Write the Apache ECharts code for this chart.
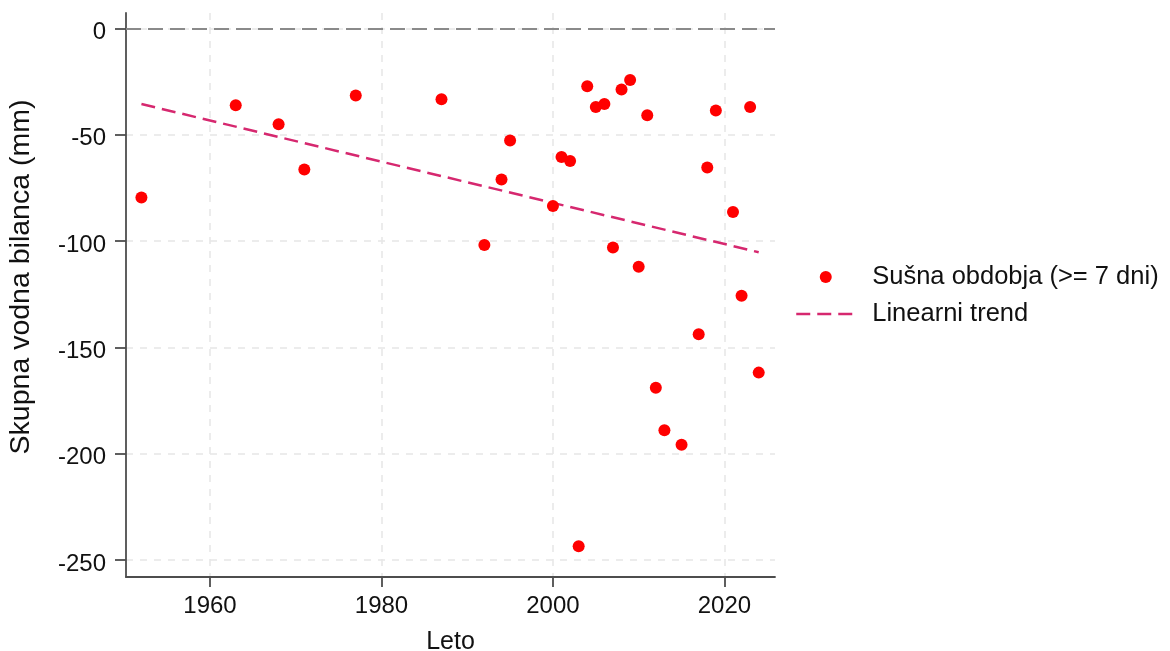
<html>
<head>
	<meta http-equiv="Content-Type" content="text/html; charset=UTF-8">
	<title>charts</title>
	<style>
		html, body { margin: 0; padding: 0; background: #fff; }
	</style>
</head>
	<body>
		<div id="echartsdrought" style="height: 651px; width: 1170px"></div>

        <script type="text/javascript" src="https://cdn.jsdelivr.net/npm/echarts@6/dist/echarts.min.js"></script>
        <script type="text/javascript">

    // leta in skupna vodna bilanca (mm)
    var years = [1952, 1963, 1968, 1971, 1977, 1987, 1992, 1994, 1995, 2000, 2001, 2002, 2003, 2004, 2005, 2006,
                 2007, 2008, 2009, 2010, 2011, 2012, 2013, 2015, 2017, 2018, 2019, 2021, 2022, 2023, 2024];
    var balance = [-79.4, -36.1, -45.0, -66.3, -31.5, -33.3, -101.8, -71.0, -52.7, -83.4, -60.4, -62.3, -243.4, -27.1, -36.9, -35.5,
                   -103.0, -28.7, -24.2, -112.0, -40.8, -168.9, -188.9, -195.7, -143.8, -65.4, -38.6, -86.3, -125.6, -36.9, -161.8];
    // linearni trend - zacetna in koncna tocka
    var trendYears = [1952, 2024];
    var trendValues = [-35.5, -105.2];
    var xTicks = [1960, 1980, 2000, 2020];
    var yTicks = [-250, -200, -150, -100, -50, 0];

    var fontName = "'Liberation Sans', Arial, Helvetica, sans-serif";
    var trendColor = '#d6286f';

    var myChart = echarts.init(document.getElementById('echartsdrought'));

    var pointData = [];
    for (var i = 0; i < years.length; i++) {
        pointData.push([years[i], balance[i]]);
    }
    var trendData = [];
    for (var i = 0; i < trendYears.length; i++) {
        trendData.push([trendYears[i], trendValues[i]]);
    }

    var axisLineStyle = {color: '#4d4d4d', width: 1.8};
    var gridLineStyle = {color: '#e6e6e6', width: 1.5, type: [7, 7]};

    var option = {
        animation: false,
        backgroundColor: '#ffffff',
        textStyle: {fontFamily: fontName},
        grid: {
            left: 126,
            right: 395,
            top: 13,
            bottom: 74,
            outerBoundsMode: 'none',
            containLabel: false
        },
        legend: {
            orient: 'vertical',
            left: 790,
            top: 259,
            itemWidth: 59,
            itemHeight: 12,
            itemGap: 11,
            textStyle: {fontSize: 25.5, color: '#111', fontFamily: fontName, padding: [0, 0, 0, 12]},
            data: [
                {name: 'Sušna obdobja (>= 7 dni)', icon: 'circle'},
                {
                    name: 'Linearni trend',
                    itemStyle: {opacity: 0},
                    lineStyle: {color: trendColor, width: 2.5, type: [14, 7]}
                }
            ]
        },
        xAxis: {
            type: 'value',
            min: 1950.2,
            max: 2025.9,
            name: 'Leto',
            nameLocation: 'middle',
            nameGap: 53,
            nameTextStyle: {fontSize: 25, color: '#111'},
            axisLine: {show: true, onZero: false, lineStyle: axisLineStyle},
            axisTick: {show: true, length: 10, lineStyle: axisLineStyle, customValues: xTicks},
            axisLabel: {
                fontSize: 24, color: '#111', margin: 17, customValues: xTicks,
                formatter: function (v) { return String(v); }
            },
            splitLine: {show: true, lineStyle: gridLineStyle}
        },
        yAxis: {
            type: 'value',
            min: -257.9,
            max: 7.3,
            name: 'Skupna vodna bilanca (mm)',
            nameLocation: 'middle',
            nameGap: 90,
            nameTextStyle: {fontSize: 28.5, color: '#111', padding: [0, 0, 0, 36]},
            axisLine: {show: true, lineStyle: axisLineStyle},
            axisTick: {show: true, length: 11, lineStyle: axisLineStyle, customValues: yTicks},
            axisLabel: {
                fontSize: 24, color: '#111', margin: 20, customValues: yTicks,
                verticalAlign: 'top',
                lineHeight: 8,
                formatter: function (v) { return String(v); }
            },
            splitLine: {show: true, lineStyle: gridLineStyle}
        },
        series: [
            {
                name: 'Sušna obdobja (>= 7 dni)',
                type: 'scatter',
                symbol: 'circle',
                symbolSize: 12,
                itemStyle: {color: '#ff0000', opacity: 1},
                data: pointData,
                z: 5,
                markLine: {
                    silent: true,
                    symbol: 'none',
                    label: {show: false},
                    lineStyle: {color: '#8a8a8a', width: 2.2, type: [15, 7]},
                    data: [{yAxis: 0}]
                }
            },
            {
                name: 'Linearni trend',
                type: 'line',
                symbol: 'none',
                lineStyle: {color: trendColor, width: 2.5, type: [14, 7]},
                itemStyle: {color: trendColor},
                data: trendData,
                z: 4
            }
        ]
    };
    myChart.setOption(option, true);
	</script>
    </body>
</html>
